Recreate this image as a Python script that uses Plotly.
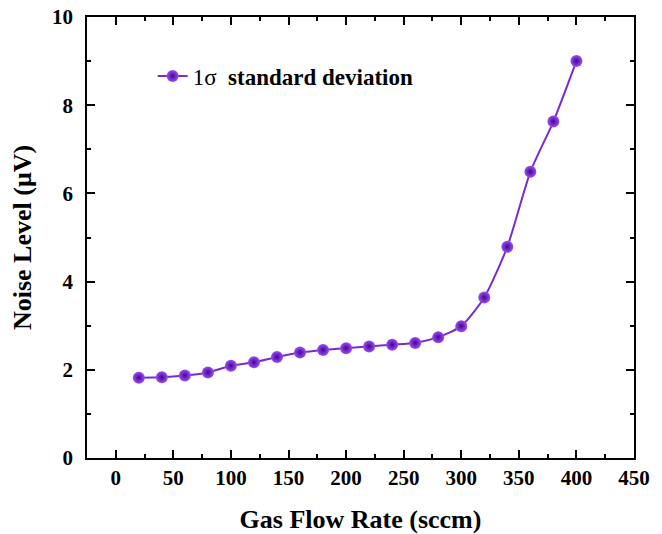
import plotly.graph_objects as go

flow_rate = [20, 40, 60, 80, 100, 120, 140, 160, 180, 200,
             220, 240, 260, 280, 300, 320, 340, 360, 380, 400]
noise_uv = [1.82, 1.83, 1.87, 1.94, 2.09, 2.17, 2.29, 2.39, 2.45, 2.49,
            2.53, 2.57, 2.61, 2.74, 2.99, 3.64, 4.79, 6.49, 7.63, 9.0]
x_ticks = [0, 50, 100, 150, 200, 250, 300, 350, 400, 450]
y_ticks = [0, 2, 4, 6, 8, 10]

FONT = "Liberation Serif, Times New Roman, serif"

fig = go.Figure()
fig.add_trace(go.Scatter(
    x=flow_rate, y=noise_uv, mode="lines+markers",
    name="1σ  <b>standard deviation</b>",
    line=dict(color="#7A2BD0", width=2, shape="spline", smoothing=0.6),
    marker=dict(size=12, color="#9A50F0",
                gradient=dict(type="radial", color="#4A0098"),
                line=dict(width=0)),
))

axis_common = dict(
    showline=True, linecolor="black", linewidth=1.5, mirror="ticks",
    ticks="inside", ticklen=8, tickwidth=1.5, tickcolor="black",
    showgrid=False, zeroline=False, automargin=False,
    ticklabeloverflow="allow",
    tickfont=dict(family=FONT, size=21, color="black", weight="bold"),
    minor=dict(ticks="inside", ticklen=4, tickwidth=1.5, tickcolor="black"),
)

fig.update_xaxes(
    range=[-25, 450], tickvals=x_ticks, ticktext=[str(v) for v in x_ticks],
    minor_dtick=25, minor_tick0=0,
    title=dict(text="<b>Gas Flow Rate (sccm)</b>",
               font=dict(family=FONT, size=26, color="black"), standoff=24),
    ticklabelstandoff=0,
    **axis_common,
)
fig.update_yaxes(
    range=[0, 10], tickvals=y_ticks, ticktext=[str(v) for v in y_ticks],
    minor_dtick=1, minor_tick0=0,
    title=dict(text="<b>Noise Level (μV)</b>",
               font=dict(family=FONT, size=26, color="black"), standoff=16),
    ticklabelstandoff=8,
    **axis_common,
)

fig.update_layout(
    width=654, height=526,
    margin=dict(l=79, r=28, t=9, b=76),
    paper_bgcolor="white", plot_bgcolor="white",
    showlegend=True,
    legend=dict(x=0.12, y=0.866, xanchor="left", yanchor="middle",
                bgcolor="rgba(0,0,0,0)",
                font=dict(family=FONT, size=23, color="black")),
)

fig.write_html("out.html")
